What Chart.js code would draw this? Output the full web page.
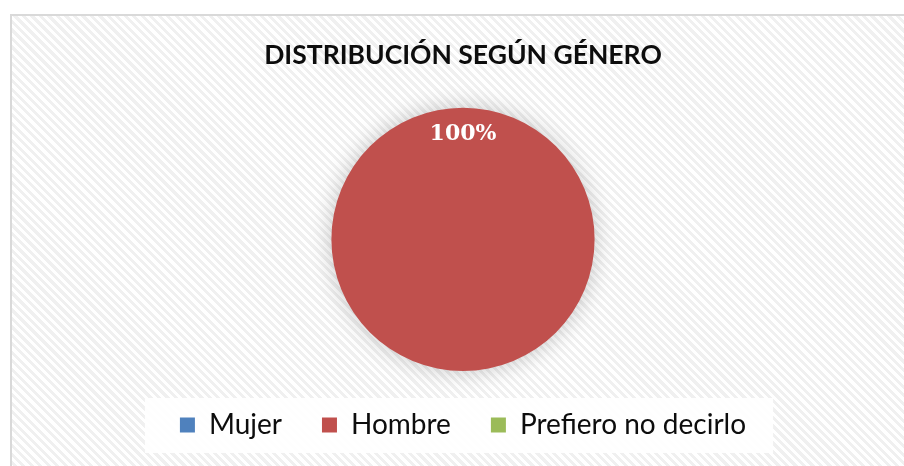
<!DOCTYPE html>
<html>
<head>
<meta charset="utf-8">
<script src="https://cdn.jsdelivr.net/npm/chart.js@4"></script>
<style>
  html, body { margin: 0; padding: 0; background: #fff; overflow: hidden; width: 904px; height: 466px; }
  #frame {
    position: absolute; left: 10px; top: 14px;
    width: 902px; height: 470px;
    border: 2px solid #d9d9d9;
    background: repeating-linear-gradient(45deg, #ffffff 0px, #ffffff 3px, #f0f0f0 3px, #f0f0f0 6px);
  }
  canvas { display: block; }
</style>
</head>
<body>
<div id="frame"><canvas id="genderChart" width="902" height="460"></canvas></div>
<script>
// datos del gráfico
const categories = ['Mujer', 'Hombre', 'Prefiero no decirlo'];
const percentages = [0, 100, 0];
const sliceColors = ['#4F81BD', '#C0504D', '#9BBB59'];

// sombra suave alrededor del pastel
const pieShadow = {
    id: 'pieShadow',
    beforeDatasetsDraw(chart) {
        const ctx = chart.ctx;
        ctx.save();
        ctx.shadowColor = 'rgba(0, 0, 0, 0.22)';
        ctx.shadowBlur = 22;
    },
    afterDatasetsDraw(chart) {
        chart.ctx.restore();
    }
};

// fondo blanco detrás de la leyenda
const legendBox = {
    id: 'legendBox',
    beforeDraw(chart) {
        const boxes = chart.legend && chart.legend.legendHitBoxes;
        if (!boxes || !boxes.length) return;
        const left = Math.min(...boxes.map(b => b.left)) - 35;
        const right = Math.max(...boxes.map(b => b.left + b.width)) + 27;
        const top = Math.min(...boxes.map(b => b.top)) - 13;
        const bottom = Math.max(...boxes.map(b => b.top + b.height)) + 14;
        const ctx = chart.ctx;
        ctx.save();
        ctx.fillStyle = 'rgba(255, 255, 255, 0.9)';
        ctx.fillRect(left, top, right - left, bottom - top);
        ctx.restore();
    }
};

// etiquetas de porcentaje
const sliceLabels = {
    id: 'sliceLabels',
    afterDatasetsDraw(chart) {
        const ctx = chart.ctx;
        const meta = chart.getDatasetMeta(0);
        ctx.save();
        ctx.fillStyle = '#ffffff';
        ctx.font = 'bold 22px "DejaVu Serif"';
        ctx.textAlign = 'center';
        ctx.textBaseline = 'middle';
        meta.data.forEach((arc, i) => {
            const v = percentages[i];
            if (!v) return;
            const p = arc.getProps(['x', 'y', 'startAngle', 'endAngle', 'outerRadius']);
            const mid = (p.startAngle + p.endAngle) / 2;
            const r = p.outerRadius * 0.8;
            ctx.fillText(v + '%', p.x + Math.cos(mid) * r, p.y + Math.sin(mid) * r);
        });
        ctx.restore();
    }
};

new Chart(document.getElementById('genderChart'), {
    type: 'pie',
    data: {
        labels: categories,
        datasets: [{
            data: percentages,
            backgroundColor: sliceColors,
            borderWidth: 0
        }]
    },
    options: {
        responsive: false,
        animation: false,
        rotation: 180,
        layout: { padding: { top: 0, bottom: 27 } },
        plugins: {
            title: {
                display: true,
                text: 'DISTRIBUCIÓN SEGÚN GÉNERO',
                color: '#0d0d0d',
                font: { family: 'Lato', size: 26.5, weight: 'bold' },
                padding: { top: 24, bottom: 36 }
            },
            legend: {
                position: 'bottom',
                labels: {
                    color: '#0d0d0d',
                    font: { family: 'Lato', size: 28 },
                    boxWidth: 15,
                    boxHeight: 15,
                    padding: 40
                }
            },
            tooltip: { enabled: false }
        }
    },
    plugins: [legendBox, pieShadow, sliceLabels]
});
</script>
</body>
</html>
